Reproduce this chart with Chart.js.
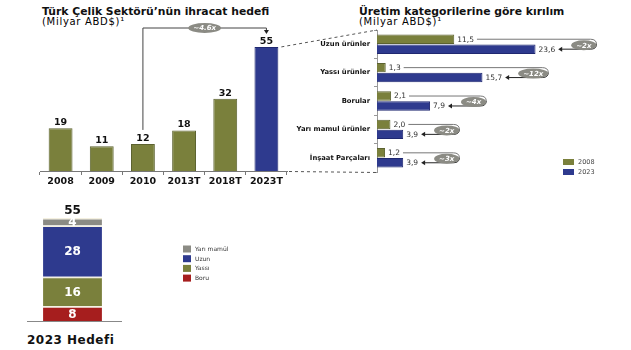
<!DOCTYPE html>
<html>
<head>
<meta charset="utf-8">
<script src="https://cdn.jsdelivr.net/npm/chart.js@4"></script>
<style>
  body { margin: 0; width: 631px; height: 350px; background: #fff; position: relative; overflow: hidden;
         font-family: "DejaVu Sans", Verdana, sans-serif; }
  canvas { position: absolute; left: 0; top: 0; }
  .t { position: absolute; color: #111; white-space: nowrap; line-height: 1; }
  .b { font-weight: bold; font-size: 10.8px; }
  .s { font-size: 10px; letter-spacing: 0.7px; color: #000; }
</style>
</head>
<body>
<div class="t b" style="left:42px;top:7px">Türk Çelik Sektörü’nün ihracat hedefi</div>
<div class="t s" style="left:42px;top:17px">(Milyar ABD$)¹</div>
<div class="t b" style="left:359px;top:7px">Üretim kategorilerine göre kırılım</div>
<div class="t s" style="left:359px;top:17px">(Milyar ABD$)¹</div>
<div class="t b" style="left:27px;top:334px;font-size:12px;letter-spacing:0.5px">2023 Hedefi</div>

<canvas id="c1" width="631" height="350"></canvas>
<canvas id="c2" width="631" height="350"></canvas>
<canvas id="c3" width="631" height="350"></canvas>

<script>
// export target per year (billion USD)
const years = ['2008', '2009', '2010', '2013T', '2018T', '2023T'];
const exportValues = [19, 11, 12, 18, 32, 55];
const exportGrowth = '~4.6x';

// breakdown by product category
const categories = ['Uzun ürünler', 'Yassı ürünler', 'Borular', 'Yarı mamul ürünler', 'İnşaat Parçaları'];
const values2008 = [11.5, 1.3, 2.1, 2.0, 1.2];
const values2023 = [23.6, 15.7, 7.9, 3.9, 3.9];
const growth = ['~2x', '~12x', '~4x', '~2x', '~3x'];

// 2023 target mix (bottom to top)
const mixLabels = ['Boru', 'Yassı', 'Uzun', 'Yarı mamül'];
const mixValues = [8, 16, 28, 4];
const mixTotal = 55;

const OLIVE = '#7a803c';
const NAVY = '#2e3a8e';
const RED = '#a61e1e';
const GREY = '#8b8b84';
const FONT = '"DejaVu Sans", Verdana, sans-serif';

const fmt = v => v.toFixed(1).replace('.', ',');

function oval(ctx, cx, cy, text) {
  ctx.font = 'italic bold 7px ' + FONT;
  const w = ctx.measureText(text).width + 10;
  ctx.fillStyle = GREY;
  ctx.beginPath();
  ctx.ellipse(cx, cy, w / 2, 5, 0, 0, Math.PI * 2);
  ctx.fill();
  ctx.fillStyle = '#fff';
  ctx.textAlign = 'center';
  ctx.textBaseline = 'middle';
  ctx.fillText(text, cx, cy + 0.5);
}

function arrowLeft(ctx, x, y) {
  ctx.beginPath();
  ctx.moveTo(x, y);
  ctx.lineTo(x + 4, y - 2.5);
  ctx.lineTo(x + 4, y + 2.5);
  ctx.closePath();
  ctx.fill();
}

// left chart: exports by year
const yearLabels = {
  id: 'yearLabels',
  afterDatasetsDraw(chart) {
    const ctx = chart.ctx;
    const bars = chart.getDatasetMeta(0).data;
    ctx.save();
    ctx.font = 'bold 9.5px ' + FONT;
    ctx.fillStyle = '#111';
    ctx.textAlign = 'center';
    ctx.textBaseline = 'alphabetic';
    bars.forEach((b, i) => ctx.fillText(exportValues[i], b.x, b.y - 3));

    // 2010 -> 2023T growth bracket
    const from = bars[2], to = bars[bars.length - 1];
    const top = chart.chartArea.top - 2;
    ctx.strokeStyle = '#444';
    ctx.fillStyle = '#222';
    ctx.lineWidth = 1;
    ctx.beginPath();
    ctx.moveTo(from.x, from.y - 14);
    ctx.lineTo(from.x, top);
    ctx.lineTo(to.x, top);
    ctx.lineTo(to.x, to.y - 16);
    ctx.stroke();
    ctx.beginPath();
    ctx.moveTo(to.x, to.y - 13);
    ctx.lineTo(to.x - 2.5, to.y - 17);
    ctx.lineTo(to.x + 2.5, to.y - 17);
    ctx.closePath();
    ctx.fill();
    oval(ctx, (from.x + to.x) / 2, top, exportGrowth);
    ctx.restore();
  }
};

new Chart(document.getElementById('c1'), {
  type: 'bar',
  data: {
    labels: years,
    datasets: [{
      data: exportValues,
      backgroundColor: years.map((y, i) => i === years.length - 1 ? NAVY : OLIVE),
      borderColor: years.map((y, i) => i === years.length - 1 ? '#1f2870' : '#5c6230'),
      borderWidth: 1,
      barPercentage: 0.58,
      categoryPercentage: 1
    }]
  },
  options: {
    responsive: false,
    animation: false,
    layout: { padding: { left: 40, right: 344, top: 30, bottom: 159 } },
    plugins: { legend: { display: false }, tooltip: { enabled: false } },
    scales: {
      x: {
        afterFit(s) { s.height = 20; },
        grid: { drawOnChartArea: false, tickLength: 4, color: '#777' },
        border: { color: '#777' },
        ticks: { padding: 1, color: '#111', maxRotation: 0, autoSkip: false,
                 font: { family: FONT, size: 9.5, weight: 'bold' } }
      },
      y: { display: false, min: 0, max: 62.5 }
    }
  },
  plugins: [yearLabels]
});

// right chart: breakdown by category
const categoryLabels = {
  id: 'categoryLabels',
  afterDatasetsDraw(chart) {
    const ctx = chart.ctx;
    const m0 = chart.getDatasetMeta(0).data;
    const m1 = chart.getDatasetMeta(1).data;
    const area = chart.chartArea;
    ctx.save();

    // dashed connectors from the 2023T bar
    const c1 = Chart.getChart('c1');
    if (c1) {
      const b = c1.getDatasetMeta(0).data[years.length - 1];
      ctx.strokeStyle = '#555';
      ctx.lineWidth = 1;
      ctx.setLineDash([3, 3]);
      ctx.beginPath();
      ctx.moveTo(b.x + b.width / 2 + 3, b.y);
      ctx.lineTo(area.left, area.top);
      ctx.moveTo(c1.chartArea.right + 2, c1.chartArea.bottom + 0.5);
      ctx.lineTo(area.left, area.bottom + 0.5);
      ctx.stroke();
      ctx.setLineDash([]);
    }

    categories.forEach((c, i) => {
      const a = m0[i], b = m1[i];
      ctx.font = '7.5px ' + FONT;
      ctx.fillStyle = '#333';
      ctx.textAlign = 'left';
      ctx.textBaseline = 'middle';
      const ta = fmt(values2008[i]), tb = fmt(values2023[i]);
      ctx.fillText(ta, a.x + 3, a.y + 0.5);
      ctx.fillText(tb, b.x + 3, b.y + 0.5);
      const endA = a.x + 3 + ctx.measureText(ta).width;
      const endB = b.x + 3 + ctx.measureText(tb).width;

      ctx.font = 'italic bold 7px ' + FONT;
      const ow = ctx.measureText(growth[i]).width + 10;
      const ocx = endB + 16 + ow / 2;
      const ocy = (a.y + b.y) / 2 + 1;
      const xr = ocx + ow / 2 - 2;
      const ym = (a.y + b.y) / 2;

      ctx.lineWidth = 1;
      ctx.strokeStyle = '#777';
      ctx.beginPath();
      ctx.moveTo(endA + 3, a.y);
      ctx.lineTo(xr - 4, a.y);
      ctx.quadraticCurveTo(xr + 2, a.y, xr + 2, ym);
      ctx.stroke();
      ctx.strokeStyle = '#222';
      ctx.beginPath();
      ctx.moveTo(xr + 2, ym);
      ctx.quadraticCurveTo(xr + 2, b.y, xr - 4, b.y);
      ctx.lineTo(endB + 6, b.y);
      ctx.stroke();
      ctx.fillStyle = '#222';
      arrowLeft(ctx, endB + 3, b.y);
      oval(ctx, ocx, ocy, growth[i]);
    });

    // legend
    const lx = area.right - 37;
    chart.data.datasets.forEach((ds, i) => {
      const ly = area.bottom - 10 + i * 10;
      ctx.fillStyle = ds.backgroundColor;
      ctx.fillRect(lx, ly - 3, 11, 6);
      ctx.fillStyle = '#444';
      ctx.font = '6.5px ' + FONT;
      ctx.textAlign = 'left';
      ctx.textBaseline = 'middle';
      ctx.fillText(ds.label, lx + 15, ly + 0.5);
    });
    ctx.restore();
  }
};

new Chart(document.getElementById('c2'), {
  type: 'bar',
  data: {
    labels: categories,
    datasets: [
      { label: '2008', data: values2008, backgroundColor: OLIVE, borderColor: '#5c6230', borderWidth: 1 },
      { label: '2023', data: values2023, backgroundColor: NAVY, borderColor: '#1f2870', borderWidth: 1 }
    ]
  },
  options: {
    indexAxis: 'y',
    responsive: false,
    animation: false,
    layout: { padding: { left: 280, right: 31, top: 30, bottom: 178 } },
    datasets: { bar: { categoryPercentage: 0.7, barPercentage: 0.95 } },
    plugins: { legend: { display: false }, tooltip: { enabled: false } },
    scales: {
      y: {
        afterFit(s) { s.width = 97; },
        grid: { drawOnChartArea: false, tickLength: 3, color: '#999' },
        border: { color: '#999' },
        ticks: { padding: 4, color: '#111', autoSkip: false, font: { family: FONT, size: 6.8, weight: 'bold' } }
      },
      x: { display: false, min: 0, max: 33.2 }
    }
  },
  plugins: [categoryLabels]
});

// bottom-left: 2023 target mix
const mixColors = [RED, OLIVE, NAVY, GREY];
const mixPlugin = {
  id: 'mixPlugin',
  afterDatasetsDraw(chart) {
    const ctx = chart.ctx;
    const area = chart.chartArea;
    ctx.save();
    ctx.strokeStyle = '#888';
    ctx.lineWidth = 1;
    ctx.beginPath();
    ctx.moveTo(area.left + 2, area.bottom + 0.5);
    ctx.lineTo(area.right + 2, area.bottom + 0.5);
    ctx.stroke();

    ctx.textAlign = 'center';
    ctx.textBaseline = 'middle';
    let topBar = null;
    chart.data.datasets.forEach((ds, i) => {
      const b = chart.getDatasetMeta(i).data[0];
      topBar = b;
      ctx.font = 'bold 12px ' + FONT;
      ctx.fillStyle = '#fff';
      ctx.fillText(ds.data[0], b.x, (b.y + b.base) / 2 + 1);
    });
    ctx.font = 'bold 12px ' + FONT;
    ctx.fillStyle = '#111';
    ctx.textBaseline = 'alphabetic';
    ctx.fillText(mixTotal, topBar.x, topBar.y - 4);

    // legend, top to bottom
    const lx = area.right + 63;
    [...chart.data.datasets].reverse().forEach((ds, i) => {
      const ly = 249 + i * 9.7;
      ctx.fillStyle = ds.backgroundColor;
      ctx.fillRect(lx, ly - 3.5, 8, 7);
      ctx.fillStyle = '#333';
      ctx.font = '6px ' + FONT;
      ctx.textAlign = 'left';
      ctx.textBaseline = 'middle';
      ctx.fillText(ds.label, lx + 12, ly + 0.5);
    });
    ctx.restore();
  }
};

new Chart(document.getElementById('c3'), {
  type: 'bar',
  data: {
    labels: ['2023'],
    datasets: mixLabels.map((l, i) => ({
      label: l,
      data: [mixValues[i]],
      backgroundColor: mixColors[i],
      borderColor: '#f4f0e0',
      borderWidth: { top: 1.5 },
      barPercentage: 0.62,
      categoryPercentage: 1
    }))
  },
  options: {
    responsive: false,
    animation: false,
    layout: { padding: { left: 25, right: 511, top: 200, bottom: 29 } },
    plugins: { legend: { display: false }, tooltip: { enabled: false } },
    scales: {
      x: { display: false, stacked: true },
      y: { display: false, stacked: true, min: 0, max: 65.8 }
    }
  },
  plugins: [mixPlugin]
});
</script>
</body>
</html>
